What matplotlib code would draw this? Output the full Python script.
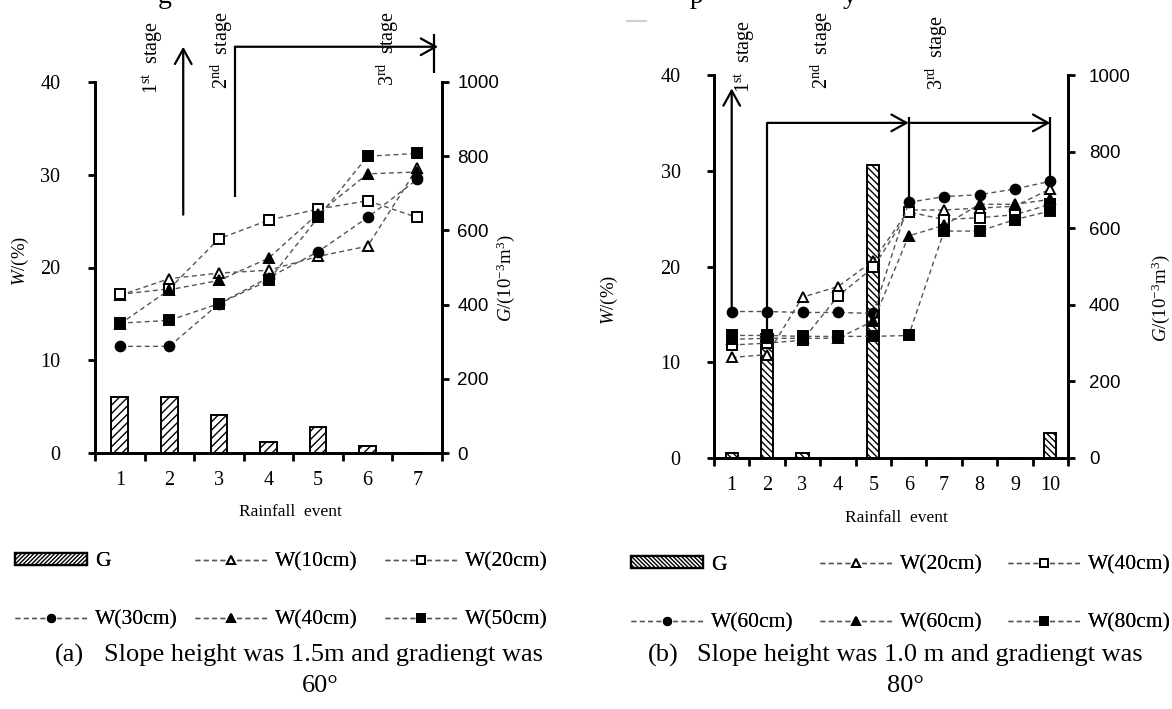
import matplotlib
matplotlib.use('Agg')
import matplotlib.pyplot as plt
from matplotlib.lines import Line2D
from matplotlib.patches import Patch

plt.rcParams['font.family'] = ['Liberation Serif', 'DejaVu Serif']
plt.rcParams['mathtext.fontset'] = 'custom'
plt.rcParams['mathtext.rm'] = 'Liberation Serif'
plt.rcParams['mathtext.it'] = 'Liberation Serif:italic'
plt.rcParams['hatch.linewidth'] = 1.0

# ---------------- data: panel (a) ----------------
events_a = [1, 2, 3, 4, 5, 6, 7]
G_a = [150, 150, 102, 29, 69, 20, 0]
W10_a = [17.0, 18.8, 19.4, 19.7, 21.2, 22.3, 30.7]
W20_a = [17.1, 17.7, 23.1, 25.1, 26.3, 27.2, 25.4]
W30_a = [11.5, 11.5, 16.1, 18.9, 21.7, 25.4, 29.5]
W40_a = [13.9, 17.6, 18.6, 21.0, 25.8, 30.1, 30.3]
W50_a = [14.0, 14.3, 16.1, 18.6, 25.4, 32.0, 32.3]
labels_a = ['W(10cm)', 'W(20cm)', 'W(30cm)', 'W(40cm)', 'W(50cm)']

# ---------------- data: panel (b) ----------------
events_b = [1, 2, 3, 4, 5, 6, 7, 8, 9, 10]
G_b = [12, 325, 12, 0, 766, 0, 0, 0, 0, 64]
W20_b = [10.5, 10.8, 16.8, 17.9, 20.6, 25.9, 25.9, 26.1, 26.3, 28.1]
W40_b = [11.8, 12.0, 12.3, 16.9, 19.9, 25.7, 24.9, 25.1, 25.4, 26.5]
W60_b = [15.3, 15.3, 15.2, 15.2, 15.1, 26.7, 27.3, 27.5, 28.1, 28.9]
W60t_b = [12.4, 12.5, 12.5, 12.5, 14.3, 23.2, 24.3, 26.5, 26.5, 27.0]
W80_b = [12.8, 12.8, 12.7, 12.7, 12.7, 12.8, 23.7, 23.7, 24.9, 25.8]
labels_b = ['W(20cm)', 'W(40cm)', 'W(60cm)', 'W(60cm)', 'W(80cm)']

W_ticks = [0, 10, 20, 30, 40]
G_ticks = [0, 200, 400, 600, 800, 1000]

W = 1172
H = 709
fig = plt.figure(figsize=(W / 100, H / 100), dpi=100)


def fx(px):
    return px / W


def fy(py):
    return 1 - py / H


styles = [
    dict(marker='^', mfc='white'),
    dict(marker='s', mfc='white'),
    dict(marker='o', mfc='black'),
    dict(marker='^', mfc='black'),
    dict(marker='s', mfc='black'),
]
line_kw = dict(color='#555555', ls=(0, (3.5, 2.5)), lw=1.0, mec='black', mew=1.4, ms=7)


def panel(x0, x1, ytop, ybot, events, G, series, hatch, wpad, gpad):
    ax = fig.add_axes([fx(x0), fy(ybot), (x1 - x0) / W, (ybot - ytop) / H])
    ax2 = ax.twinx()
    ax2.bar(events, G, width=0.34, facecolor='white', edgecolor='black',
            hatch=hatch, lw=1.4, zorder=2)
    for vals, st in zip(series, styles):
        ax.plot(events, vals, **st, **line_kw, zorder=3, clip_on=False)
    ax.set_zorder(ax2.get_zorder() + 1)
    ax.patch.set_visible(False)
    n = len(events)
    for a in (ax, ax2):
        a.set_xlim(0.5, n + 0.5)
        a.spines['top'].set_visible(False)
        for s in ('left', 'right', 'bottom'):
            a.spines[s].set_linewidth(2.0)
    ax.set_ylim(0, 40)
    ax2.set_ylim(0, 1000)
    ax.set_yticks(W_ticks)
    ax2.set_yticks(G_ticks)
    ax.set_xticks(events)
    ax.set_xticks([e + 0.5 for e in range(n + 1)], minor=True)
    ax.tick_params(axis='x', which='major', length=0, pad=13, labelsize=14.5)
    ax.tick_params(axis='x', which='minor', length=6, width=2, direction='out')
    ax.tick_params(axis='y', length=5, width=2, direction='out', pad=wpad, labelsize=14.5)
    ax2.tick_params(axis='y', length=5, width=2, direction='out', pad=gpad, labelsize=13.5)
    for lb in ax2.get_yticklabels():
        lb.set_fontfamily(['Liberation Sans', 'DejaVu Sans'])
    return ax, ax2


ax_a, ax2_a = panel(95, 442, 82, 453, events_a, G_a,
                    [W10_a, W20_a, W30_a, W40_a, W50_a], '////', 20, 6)
ax_b, ax2_b = panel(714, 1068, 75, 458, events_b, G_b,
                    [W20_b, W40_b, W60_b, W60t_b, W80_b], '\\\\\\\\\\', 19, 10)

arrow_kw = dict(arrowstyle='->,head_length=0.9,head_width=0.5', lw=1.6, color='black',
                mutation_scale=12, shrinkA=0, shrinkB=0)
seg_kw = dict(color='black', lw=1.6, clip_on=False, solid_capstyle='butt')

# panel (a) stage annotations
ax_a.annotate('', xy=(2.28, 43.8), xytext=(2.28, 25.7), arrowprops=arrow_kw, annotation_clip=False)
ax_a.plot([3.32, 3.32], [27.6, 43.8], **seg_kw)
ax_a.annotate('', xy=(7.42, 43.8), xytext=(3.32, 43.8), arrowprops=arrow_kw, annotation_clip=False)
ax_a.plot([7.33, 7.33], [41.0, 45.2], **seg_kw)

# panel (b) stage annotations
ax_b.annotate('', xy=(1, 38.6), xytext=(1, 15.4), arrowprops=arrow_kw, annotation_clip=False)
ax_b.plot([2, 2], [13.4, 35.0], **seg_kw)
ax_b.annotate('', xy=(6, 35.0), xytext=(2, 35.0), arrowprops=arrow_kw, annotation_clip=False)
ax_b.plot([6, 6], [26.7, 35.6], **seg_kw)
ax_b.annotate('', xy=(10, 35.0), xytext=(6, 35.0), arrowprops=arrow_kw, annotation_clip=False)
ax_b.plot([10, 10], [28.9, 35.6], **seg_kw)

stage_fs = 14.5
for (px, py, txt) in [(153, 58, r'1$^{\rm st}$  stage'), (222, 50, r'2$^{\rm nd}$  stage'),
                      (388, 48, r'3$^{\rm rd}$  stage'), (745, 57, r'1$^{\rm st}$  stage'),
                      (822, 50, r'2$^{\rm nd}$  stage'), (937, 52, r'3$^{\rm rd}$  stage')]:
    fig.text(fx(px), fy(py), txt, rotation=90, ha='center', va='center', fontsize=stage_fs)

# axis labels
fig.text(fx(20), fy(261), r'$W$/(%)', rotation=90, ha='center', va='center', fontsize=13.5)
fig.text(fx(506), fy(278), r'$G$/(10$^{-3}$m$^{3}$)', rotation=90, ha='center', va='center', fontsize=13.5)
fig.text(fx(609), fy(300), r'$W$/(%)', rotation=90, ha='center', va='center', fontsize=13.5)
fig.text(fx(1161), fy(298), r'$G$/(10$^{-3}$m$^{3}$)', rotation=90, ha='center', va='center', fontsize=13.5)
fig.text(fx(290), fy(512), 'Rainfall  event', ha='center', va='center', fontsize=12.5)
fig.text(fx(896), fy(518), 'Rainfall  event', ha='center', va='center', fontsize=12.5)


# legends
def handle(st):
    return Line2D([], [], **st, **line_kw)


leg_fs = 15.5
leg_kw = dict(loc='center left', frameon=False, fontsize=leg_fs, handlelength=3.34,
              handletextpad=0.37, labelspacing=1.8, borderpad=0, borderaxespad=0,
              markerscale=0.75, handleheight=0.5)


def legends(xs, ymid, G_hatch, labels):
    gh = Patch(facecolor='white', edgecolor='black', hatch=G_hatch, lw=1.6)
    cols = [([gh, handle(styles[2])], ['G', labels[2]]),
            ([handle(styles[0]), handle(styles[3])], [labels[0], labels[3]]),
            ([handle(styles[1]), handle(styles[4])], [labels[1], labels[4]])]
    for x, (hs, ls) in zip(xs, cols):
        lg = fig.legend(hs, ls, bbox_to_anchor=(fx(x), fy(ymid)), **leg_kw)
        fig.add_artist(lg)


legends([15, 195, 385], 591, '////////', labels_a)
legends([631, 820, 1008], 594, '\\\\\\\\\\\\\\\\', labels_b)

# captions
cap_fs = 19
fig.text(fx(55), fy(655), '(a)', ha='left', va='center', fontsize=cap_fs)
fig.text(fx(104), fy(655), 'Slope height was 1.5m and gradiengt was', ha='left', va='center', fontsize=cap_fs)
fig.text(fx(320), fy(686), '60°', ha='center', va='center', fontsize=cap_fs)
fig.text(fx(648), fy(655), '(b)', ha='left', va='center', fontsize=cap_fs)
fig.text(fx(697), fy(655), 'Slope height was 1.0 m and gradiengt was', ha='left', va='center', fontsize=cap_fs)
fig.text(fx(905), fy(686), '80°', ha='center', va='center', fontsize=cap_fs)

# cropped fragments of the text line above the figure
fig.text(fx(158), fy(3), 'g', ha='left', va='baseline', fontsize=20)
fig.text(fx(690), fy(3), 'p', ha='left', va='baseline', fontsize=20)
fig.text(fx(843), fy(3), 'y', ha='left', va='baseline', fontsize=20)
fig.add_artist(Line2D([fx(627), fx(646)], [fy(21), fy(21)], color='#d0d0d0', lw=1.5))

fig.savefig('out.png', dpi=100)
